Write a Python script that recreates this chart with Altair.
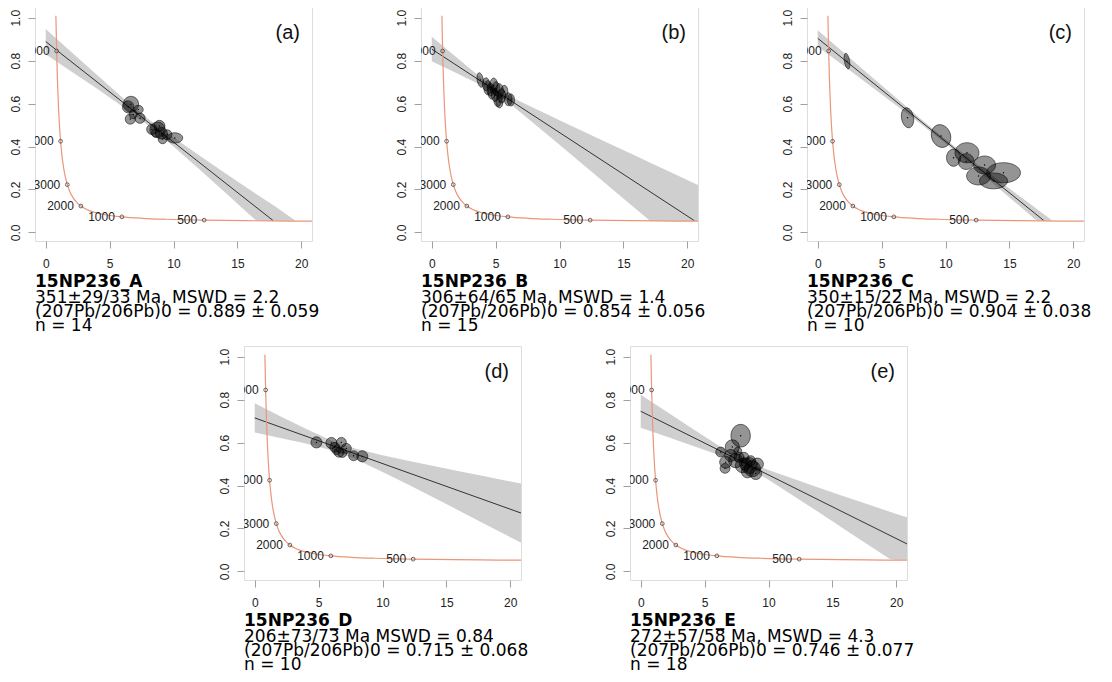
import altair as alt
import pandas as pd

W, H = 277, 234
XD = [-0.84, 20.84]
YD = [-0.04, 1.05]
KX = W / (XD[1] - XD[0])
KY = H / (YD[1] - YD[0])

# ---- concordia curve ----
conc_x = [0.795, 0.853, 0.918, 0.990, 1.071, 1.163, 1.267, 1.387, 1.525, 1.6875,
          1.880, 2.111, 2.394, 2.749, 3.206, 3.817, 4.673, 5.959, 7.568, 9.426,
          12.40, 15.62, 19.04, 20.99]
conc_y = [1.009, 0.845, 0.7094, 0.5967, 0.5029, 0.4247, 0.3600, 0.3059, 0.2605, 0.2226,
          0.1909, 0.1643, 0.1419, 0.1230, 0.1071, 0.0936, 0.0822, 0.0725, 0.0658, 0.0613,
          0.0572, 0.0547, 0.0530, 0.05234]
age_x = [0.853, 1.163, 1.6875, 2.749, 5.959, 12.40]
age_y = [0.845, 0.4247, 0.2226, 0.123, 0.0725, 0.0572]
age_lab = ["5000", "4000", "3000", "2000", "1000", "500"]

letters = ["(a)", "(b)", "(c)", "(d)", "(e)"]
names = ["15NP236_A", "15NP236_B", "15NP236_C", "15NP236_D", "15NP236_E"]
info = [
    ["351±29/33 Ma, MSWD = 2.2", "(207Pb/206Pb)0 = 0.889 ± 0.059", "n = 14"],
    ["306±64/65 Ma, MSWD = 1.4", "(207Pb/206Pb)0 = 0.854 ± 0.056", "n = 15"],
    ["350±15/22 Ma, MSWD = 2.2", "(207Pb/206Pb)0 = 0.904 ± 0.038", "n = 10"],
    ["206±73/73 Ma MSWD = 0.84", "(207Pb/206Pb)0 = 0.715 ± 0.068", "n = 10"],
    ["272±57/58 Ma, MSWD = 4.3", "(207Pb/206Pb)0 = 0.746 ± 0.077", "n = 18"],
]

# ---- regression lines (endpoints) ----
reg_x = [[0, 17.8], [0, 20.55], [0, 17.7], [0, 20.84], [0, 20.84]]
reg_y = [[0.889, 0.055], [0.854, 0.055], [0.904, 0.055], [0.715, 0.272], [0.746, 0.128]]

# ---- confidence bands ----
band_x = [
    [0, 2, 4, 6, 8, 10, 12, 14, 16, 16.5, 18, 19.55],
    [0, 2, 4, 5, 6, 8, 10, 12, 14, 16, 17.1, 18, 20, 20.84],
    [0, 2, 4, 6, 8, 10, 12, 14, 16, 17, 17.3, 18, 18.35],
    [0, 2, 4, 6, 7, 8, 10, 12, 14, 16, 18, 20.84],
    [0, 2, 4, 6, 8, 10, 12, 14, 16, 18, 19.5, 20, 20.84],
]
band_hi = [
    [0.948, 0.840, 0.734, 0.629, 0.529, 0.442, 0.359, 0.278, 0.198, 0.178, 0.119, 0.054],
    [0.911, 0.812, 0.714, 0.672, 0.637, 0.579, 0.522, 0.466, 0.411, 0.356, 0.325, 0.300, 0.244, 0.221],
    [0.942, 0.839, 0.736, 0.634, 0.532, 0.434, 0.340, 0.250, 0.160, 0.116, 0.1025, 0.0715, 0.054],
    [0.783, 0.723, 0.664, 0.610, 0.588, 0.570, 0.541, 0.515, 0.491, 0.467, 0.443, 0.409],
    [0.823, 0.745, 0.667, 0.590, 0.521, 0.472, 0.430, 0.389, 0.348, 0.308, 0.2775, 0.267, 0.252],
]
band_lo = [
    [0.830, 0.750, 0.670, 0.587, 0.499, 0.400, 0.295, 0.188, 0.080, 0.054, 0.054, 0.054],
    [0.797, 0.740, 0.682, 0.648, 0.605, 0.507, 0.408, 0.308, 0.208, 0.108, 0.053, 0.053, 0.053, 0.053],
    [0.866, 0.777, 0.688, 0.598, 0.508, 0.414, 0.316, 0.214, 0.112, 0.061, 0.054, 0.054, 0.054],
    [0.647, 0.622, 0.596, 0.564, 0.544, 0.520, 0.463, 0.405, 0.344, 0.283, 0.221, 0.134],
    [0.669, 0.628, 0.587, 0.545, 0.497, 0.427, 0.350, 0.273, 0.194, 0.116, 0.0577, 0.054, 0.054],
]

# ---- error ellipses: centre x, centre y, half-width (x units), half-height (y units), tilt ----
ell_x = [
    [6.67, 6.45, 7.25, 6.62, 7.38, 6.85, 8.9, 8.75, 8.3, 9.05, 9.15, 10.1, 9.5, 8.6],
    [3.8, 4.25, 4.38, 4.6, 4.85, 4.69, 5.03, 5.29, 4.95, 5.48, 5.68, 5.16, 5.3, 5.99, 6.2],
    [2.29, 7.03, 9.65, 11.68, 10.63, 11.62, 13.06, 14.54, 12.59, 13.76],
    [4.83, 6.0, 6.78, 6.26, 6.6, 6.4, 7.17, 7.74, 8.42, 6.86],
    [7.82, 7.17, 6.26, 7.04, 6.65, 7.43, 8.08, 7.96, 8.47, 8.74, 9.13, 8.35, 9.0, 7.69, 8.6, 6.6, 7.6, 8.2],
]
ell_y = [
    [0.597, 0.585, 0.572, 0.528, 0.532, 0.55, 0.496, 0.478, 0.48, 0.462, 0.435, 0.44, 0.455, 0.463],
    [0.71, 0.69, 0.674, 0.665, 0.684, 0.651, 0.67, 0.659, 0.64, 0.636, 0.655, 0.62, 0.61, 0.62, 0.617],
    [0.798, 0.534, 0.449, 0.371, 0.348, 0.33, 0.314, 0.278, 0.263, 0.24],
    [0.601, 0.598, 0.601, 0.578, 0.555, 0.565, 0.573, 0.539, 0.536, 0.552],
    [0.632, 0.58, 0.556, 0.54, 0.509, 0.516, 0.532, 0.493, 0.493, 0.478, 0.5, 0.464, 0.456, 0.532, 0.516, 0.48, 0.56, 0.5],
]
ell_a = [
    [0.6, 0.45, 0.38, 0.4, 0.4, 0.32, 0.43, 0.6, 0.4, 0.47, 0.35, 0.62, 0.38, 0.32],
    [0.24, 0.28, 0.3, 0.28, 0.3, 0.28, 0.3, 0.32, 0.28, 0.3, 0.28, 0.3, 0.28, 0.3, 0.28],
    [0.2, 0.47, 0.74, 0.94, 0.55, 0.62, 0.86, 1.33, 0.94, 1.1],
    [0.43, 0.43, 0.39, 0.39, 0.39, 0.35, 0.39, 0.39, 0.43, 0.35],
    [0.76, 0.55, 0.39, 0.47, 0.47, 0.55, 0.39, 0.55, 0.63, 0.63, 0.47, 0.47, 0.47, 0.39, 0.39, 0.39, 0.31, 0.47],
]
ell_b = [
    [0.037, 0.028, 0.02, 0.024, 0.024, 0.02, 0.026, 0.036, 0.024, 0.027, 0.022, 0.024, 0.023, 0.02],
    [0.034, 0.03, 0.033, 0.03, 0.035, 0.03, 0.032, 0.034, 0.03, 0.033, 0.03, 0.034, 0.03, 0.03, 0.028],
    [0.037, 0.047, 0.054, 0.047, 0.04, 0.037, 0.042, 0.047, 0.042, 0.037],
    [0.026, 0.026, 0.023, 0.023, 0.023, 0.021, 0.023, 0.023, 0.026, 0.021],
    [0.053, 0.033, 0.023, 0.028, 0.028, 0.033, 0.023, 0.033, 0.037, 0.037, 0.028, 0.028, 0.028, 0.023, 0.023, 0.023, 0.019, 0.028],
]
ell_t = [
    [0, 0, 0, 0, 0, 0, 0, 0, 0, 0, 0, 0, 0, 0],
    [350, 0, 0, 0, 0, 0, 0, 0, 0, 0, 0, 0, 0, 0, 0],
    [350, 350, 340, 0, 0, 0, 0, 0, 0, 0],
    [0, 0, 0, 0, 0, 0, 0, 0, 0, 0],
    [0, 0, 0, 0, 0, 0, 0, 0, 0, 0, 0, 0, 0, 0, 0, 0, 0, 0],
]

K = 0.5523


def ellipse_path(rx, ry):
    f = lambda v: f"{v:.4f}"
    return (f"M{f(rx)},0C{f(rx)},{f(K*ry)} {f(K*rx)},{f(ry)} 0,{f(ry)}"
            f"C{f(-K*rx)},{f(ry)} {f(-rx)},{f(K*ry)} {f(-rx)},0"
            f"C{f(-rx)},{f(-K*ry)} {f(-K*rx)},{f(-ry)} 0,{f(-ry)}"
            f"C{f(K*rx)},{f(-ry)} {f(rx)},{f(-K*ry)} {f(rx)},0Z")


xs = alt.Scale(domain=XD, nice=False, zero=False)
ys = alt.Scale(domain=YD, nice=False, zero=False)
xax = alt.Axis(values=[0, 5, 10, 15, 20], title=None, grid=False, domain=False,
               tickColor="#a0a0a0", tickSize=7, labelPadding=10, labelFont="Liberation Sans",
               labelFontSize=12, labelColor="#222222")
yax = alt.Axis(values=[0, 0.2, 0.4, 0.6, 0.8, 1.0], format=".1f", title=None, grid=False,
               domain=False, tickColor="#a0a0a0", tickSize=7, labelPadding=6, labelAngle=270,
               labelAlign="center", labelBaseline="bottom", labelFont="Liberation Sans",
               labelFontSize=12, labelColor="#222222")


def X(f):
    return alt.X(f, type="quantitative", scale=xs, axis=xax)


def Y(f):
    return alt.Y(f, type="quantitative", scale=ys, axis=yax)


conc_df = pd.DataFrame({"x": conc_x, "y": conc_y})
age_df = pd.DataFrame({"x": age_x, "y": age_y, "lab": age_lab})


def panel(i):
    bdf = pd.DataFrame({"x": band_x[i], "hi": band_hi[i], "lo": band_lo[i]})
    rdf = pd.DataFrame({"x": reg_x[i], "y": reg_y[i]})
    rows = []
    for x, y, a, b, t in zip(ell_x[i], ell_y[i], ell_a[i], ell_b[i], ell_t[i]):
        ap, bp = a * KX, b * KY
        m = max(ap, bp)
        rows.append({"x": x, "y": y, "path": ellipse_path(ap / m, bp / m),
                     "sz": (2 * m) ** 2, "ang": t})
    edf = pd.DataFrame(rows)

    band = alt.Chart(bdf).mark_area(color="#cfcfcf", clip=True).encode(
        x=X("x"), y=Y("hi"), y2="lo")
    reg = alt.Chart(rdf).mark_line(color="#333333", strokeWidth=1, clip=True).encode(
        x=X("x"), y=Y("y"))
    conc = alt.Chart(conc_df).mark_line(color="#E9967A", strokeWidth=1.2,
                                        interpolate="monotone", clip=True).encode(
        x=X("x"), y=Y("y"))
    ell = alt.Chart(edf).mark_point(filled=True, fill="#000000", fillOpacity=0.42,
                                    stroke="#000000", strokeOpacity=0.75, strokeWidth=0.7,
                                    opacity=1).encode(
        x=X("x"), y=Y("y"),
        shape=alt.Shape("path:N", scale=None),
        size=alt.Size("sz:Q", scale=None),
        angle=alt.Angle("ang:Q", scale=None))
    dots = alt.Chart(edf).mark_point(filled=True, color="#000000", size=2, opacity=1).encode(
        x=X("x"), y=Y("y"))
    ages = alt.Chart(age_df).mark_point(shape="circle", filled=False, size=14, color="#444444",
                                        strokeWidth=0.8, opacity=1).encode(x=X("x"), y=Y("y"))
    agelab = alt.Chart(age_df).mark_text(align="right", baseline="middle", dx=-7,
                                         font="Liberation Sans", fontSize=12,
                                         color="#222222", clip=True).encode(
        x=X("x"), y=Y("y"), text="lab:N")
    letter = alt.Chart(pd.DataFrame({"t": [letters[i]]})).mark_text(
        align="right", baseline="middle", font="Liberation Sans", fontSize=20,
        color="#111111").encode(x=alt.value(W - 12), y=alt.value(26), text="t:N")
    name = alt.Chart(pd.DataFrame({"t": [names[i]]})).mark_text(
        align="left", baseline="alphabetic", font="DejaVu Sans", fontSize=17,
        fontWeight="bold", color="#000000").encode(
        x=alt.value(0), y=alt.value(H + 46), text="t:N")
    inf = alt.Chart(pd.DataFrame({"t": ["\n".join(info[i])]})).mark_text(
        align="left", baseline="alphabetic", font="DejaVu Sans", fontSize=17,
        lineBreak="\n", lineHeight=13.8, color="#000000").encode(
        x=alt.value(0), y=alt.value(H + 62), text="t:N")
    return alt.layer(band, reg, conc, ell, dots, ages, agelab, letter, name, inf).properties(
        width=W, height=H)


spacer = alt.Chart(pd.DataFrame({"v": [0]})).mark_point(opacity=0).encode(
    x=alt.X("v:Q", axis=None), y=alt.Y("v:Q", axis=None)).properties(
    width=100, height=H, view=alt.ViewBackground(stroke="transparent"))

row1 = alt.hconcat(panel(0), panel(1), panel(2), spacing=109, bounds="flush")
row2 = alt.hconcat(spacer, panel(3), panel(4), spacing=109, bounds="flush")
chart = alt.vconcat(row1, row2, spacing=10).properties(
    padding={"left": 0, "top": -2, "right": 2, "bottom": 2}
).configure_view(stroke="#555555", strokeWidth=1).configure(background="white")

chart.save("out.html", embed_options={"renderer": "svg", "actions": False})
